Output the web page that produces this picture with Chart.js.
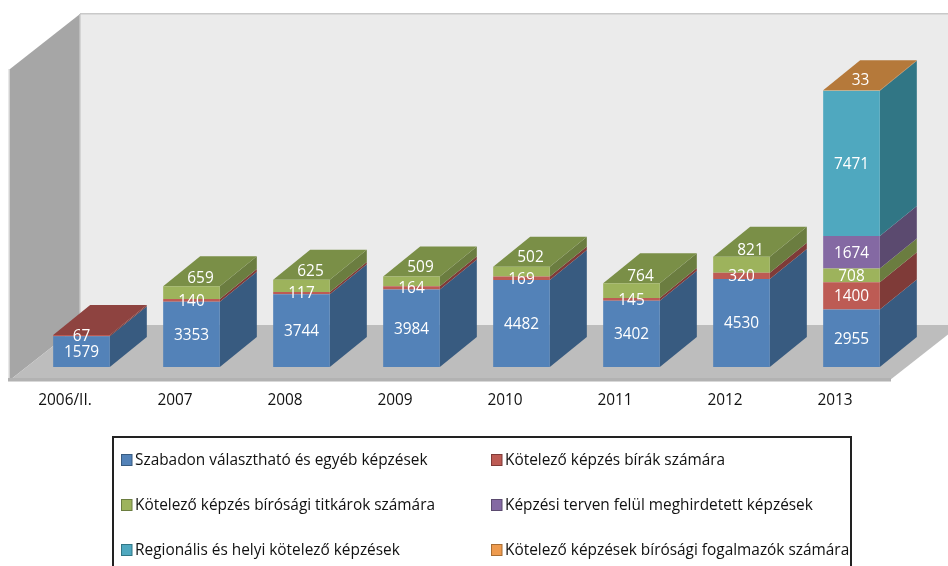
<!DOCTYPE html>
<html><head><meta charset="utf-8">
<style>html,body{margin:0;padding:0;background:#fff;overflow:hidden}canvas{display:block}</style>
<script src="https://cdn.jsdelivr.net/npm/chart.js@4"></script>
</head><body><canvas id="c" width="948" height="566"></canvas>
<script>
const categories = ["2006/II.","2007","2008","2009","2010","2011","2012","2013"];
const szabadon =   [1579,3353,3744,3984,4482,3402,4530,2955];
const birak =      [67,140,117,164,169,145,320,1400];
const titkarok =   [null,659,625,509,502,764,821,708];
const tervenFelul =[null,null,null,null,null,null,null,1674];
const regionalis = [null,null,null,null,null,null,null,7471];
const fogalmazok = [null,null,null,null,null,null,null,33];
const seriesNames = ["Szabadon választható és egyéb képzések","Kötelező képzés bírák számára","Kötelező képzés bírósági titkárok számára","Képzési terven felül meghirdetett képzések","Regionális és helyi kötelező képzések","Kötelező képzések bírósági fogalmazók számára"];
const FONT='"Open Sans"';
const front=['#5382b8','#bd5b54','#9db35c','#8469a3','#4fa8bf','#ee9a4d'];
const side=['#385b80','#7f3b38','#6b7d40','#5b4a6f','#317685','#a86d33'];
const top_=['#3f6690','#8e4340','#7a8f47','#66527c','#38849a','#b5793a'];
const BAR_DX=16.5,BAR_DY=-13,DEPTH_X=37,DEPTH_Y=-30,WALL_X=70,WALL_Y=-55;

function poly(ctx,pts,fill,stroke){
  ctx.beginPath();pts.forEach((p,i)=>i?ctx.lineTo(p[0],p[1]):ctx.moveTo(p[0],p[1]));ctx.closePath();
  ctx.fillStyle=fill;ctx.fill();
  if(stroke){ctx.strokeStyle=stroke;ctx.lineWidth=1;ctx.stroke();}
}
const scene={
  id:'scene',
  beforeDatasetsDraw(chart){
    const {ctx,chartArea:a}=chart;
    const fy=a.bottom,bx=a.left+WALL_X,by=fy+WALL_Y,ty=a.top+WALL_Y;
    // back wall, side wall, floor
    ctx.save();
    poly(ctx,[[bx,ty],[chart.width+20,ty],[chart.width+20,by],[bx,by]],'#ebebeb');
    ctx.fillStyle='#c9c9c9';ctx.fillRect(bx,ty-1,chart.width,1.5);
    poly(ctx,[[a.left,a.top],[bx,ty],[bx,by],[a.left,fy]],'#a6a6a6');
    ctx.fillStyle='#bdbdbd';ctx.fillRect(bx-1,ty,1.5,by-ty);
    ctx.fillStyle='#d2d2d2';ctx.fillRect(a.left-1.5,a.top,1.5,fy-a.top+1);
    poly(ctx,[[a.left,fy],[bx,by],[a.right+WALL_X,by],[a.right,fy]],'#bdbdbd');
    ctx.fillStyle='#b2b2b2';ctx.fillRect(a.left-2,fy-2,a.right-a.left+3,3.5);
    // depth faces of each bar segment
    ctx.translate(BAR_DX,BAR_DY);
    chart.data.labels.forEach((_,i)=>{
      let topDs=-1;
      chart.data.datasets.forEach((d,ds)=>{ if(d.data[i]!=null) topDs=ds; });
      chart.data.datasets.forEach((d,ds)=>{
        if(d.data[i]==null) return;
        const b=chart.getDatasetMeta(ds).data[i];
        const R=b.x+b.width/2,L=b.x-b.width/2;
        poly(ctx,[[R,b.y],[R+DEPTH_X,b.y+DEPTH_Y],[R+DEPTH_X,b.base+DEPTH_Y],[R,b.base]],side[ds]);
        if(ds===topDs) poly(ctx,[[L,b.y],[L+DEPTH_X,b.y+DEPTH_Y],[R+DEPTH_X,b.y+DEPTH_Y],[R,b.y]],top_[ds]);
      });
    });
    ctx.restore();
    ctx.save();
    ctx.translate(BAR_DX,BAR_DY);
  },
  afterDatasetsDraw(chart){
    const {ctx}=chart;
    ctx.restore();
    // value labels
    ctx.save();
    ctx.font='15.4px '+FONT;ctx.fillStyle='#fff';ctx.textAlign='center';ctx.textBaseline='middle';
    chart.data.labels.forEach((_,i)=>{
      let topDs=-1;
      chart.data.datasets.forEach((d,ds)=>{ if(d.data[i]!=null) topDs=ds; });
      chart.data.datasets.forEach((d,ds)=>{
        const v=d.data[i]; if(v==null) return;
        const b=chart.getDatasetMeta(ds).data[i];
        let x=b.x+BAR_DX,y=(b.y+b.base)/2+BAR_DY+1;
        if(ds===topDs&&ds>=2){x+=9;y-=ds===5?11:15;}
        ctx.fillText(String(v),x,y);
      });
    });
    // legend box
    ctx.strokeStyle='#222';ctx.lineWidth=2;
    ctx.strokeRect(113,437,738,140);
    ctx.font='15.4px '+FONT;ctx.textAlign='left';
    chart.data.datasets.forEach((d,ds)=>{
      const col=ds%2,row=Math.floor(ds/2);
      const x=col?491.5:121.5,y=460+row*45;
      ctx.fillStyle=front[ds];ctx.fillRect(x,y-5.5,10.5,11);
      ctx.strokeStyle=side[ds];ctx.lineWidth=1;ctx.strokeRect(x,y-5.5,10.5,11);
      ctx.fillStyle='#111';ctx.fillText(d.label,x+13.5,y+1);
    });
    ctx.restore();
  }
};
const series=[szabadon,birak,titkarok,tervenFelul,regionalis,fogalmazok];
new Chart(document.getElementById('c'),{
  type:'bar',
  data:{labels:categories,datasets:series.map((s,i)=>({label:seriesNames[i],data:s,backgroundColor:front[i],borderColor:side[i],borderWidth:0,stack:'a',categoryPercentage:1,barPercentage:0.515}))},
  options:{
    responsive:false,animation:false,
    layout:{padding:{left:10,right:58,top:69,bottom:0}},
    plugins:{legend:{display:false},tooltip:{enabled:false}},
    scales:{
      x:{stacked:true,grid:{display:false},border:{display:false},
         ticks:{color:'#111',font:{family:FONT,size:15.4},padding:3,maxRotation:0,autoSkip:false},
         afterFit(s){s.height=186;}},
      y:{stacked:true,display:false,min:0,max:16000}
    }
  },
  plugins:[scene]
});
</script></body></html>
